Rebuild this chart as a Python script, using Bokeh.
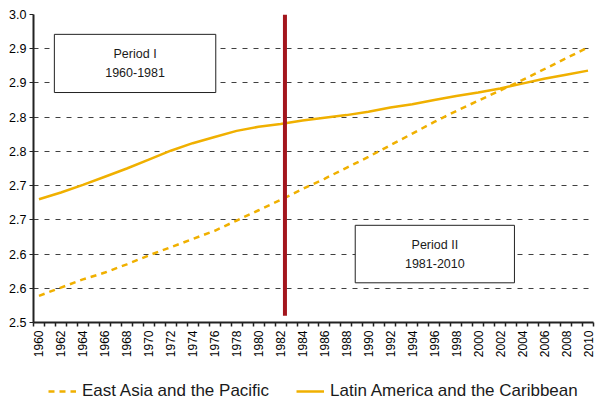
import math
from bokeh.plotting import figure
from bokeh.layouts import column
from bokeh.models import Range1d, FixedTicker, BoxAnnotation, Label, Legend, LegendItem
from bokeh.embed import file_html
from bokeh.resources import INLINE

# ---- data ----
years = list(range(1960, 2011, 2))
east_asia = [2.589, 2.601, 2.613, 2.623, 2.635, 2.648, 2.660, 2.672, 2.684, 2.699,
             2.714, 2.729, 2.745, 2.760, 2.776, 2.792, 2.809, 2.826, 2.843, 2.859,
             2.874, 2.889, 2.904, 2.920, 2.936, 2.952]
latin = [2.730, 2.740, 2.751, 2.763, 2.775, 2.788, 2.801, 2.812, 2.821, 2.830,
         2.836, 2.840, 2.845, 2.849, 2.853, 2.858, 2.864, 2.869, 2.875, 2.881,
         2.886, 2.892, 2.899, 2.906, 2.912, 2.918]
series_names = ["East Asia and the Pacific", "Latin America and the Caribbean"]

y_ticks = [2.55, 2.6, 2.65, 2.7, 2.75, 2.8, 2.85, 2.9, 2.95, 3.0]
y_tick_labels = ["2.5", "2.6", "2.6", "2.7", "2.7", "2.8", "2.8", "2.9", "2.9", "3.0"]
x_label_years = list(range(1960, 2011, 2))
x_category_edges = [y - 0.5 for y in range(1960, 2012)]

period_break = 1982.4
period_break_bottom = 2.56
period_boxes = [
    dict(left=1961.4, right=1976.1, bottom=2.886, top=2.971, lines=["Period I", "1960-1981"]),
    dict(left=1988.8, right=2003.3, bottom=2.608, top=2.692, lines=["Period II", "1981-2010"]),
]

FONT = "Liberation Sans"
GOLD = "#F0B000"
DASH = "6 5"

p = figure(width=596, height=360,
           x_range=Range1d(1959.5, 2010.5), y_range=Range1d(2.55, 3.0),
           output_backend="svg", toolbar_location=None,
           min_border_left=33, min_border_right=3, min_border_top=14, min_border_bottom=37)
p.outline_line_color = None
p.background_fill_color = "white"

# grid
p.xgrid.visible = False
p.ygrid.ticker = FixedTicker(ticks=y_ticks)
p.ygrid.grid_line_color = "#404040"
p.ygrid.grid_line_dash = "5 6"
p.ygrid.grid_line_width = 1

# y axis
p.yaxis.ticker = FixedTicker(ticks=y_ticks)
p.yaxis.major_label_overrides = {t: l for t, l in zip(y_ticks, y_tick_labels)}
p.yaxis.major_label_text_font = FONT
p.yaxis.major_label_text_font_size = "12.5px"
p.yaxis.major_label_text_color = "black"
p.yaxis.axis_line_color = "#222222"
p.yaxis.axis_line_width = 2
p.yaxis.major_tick_out = 4
p.yaxis.major_tick_in = 0
p.yaxis.major_tick_line_color = "#222222"
p.yaxis.minor_tick_line_color = None
p.yaxis.major_label_standoff = 3

# x axis
p.xaxis.ticker = FixedTicker(ticks=x_label_years, minor_ticks=x_category_edges)
p.xaxis.major_label_orientation = math.pi / 2
p.xaxis.major_label_text_font = FONT
p.xaxis.major_label_text_font_size = "12px"
p.xaxis.major_label_text_color = "black"
p.xaxis.major_tick_line_color = None
p.xaxis.major_tick_out = 0
p.xaxis.major_tick_in = 0
p.xaxis.minor_tick_out = 4
p.xaxis.minor_tick_in = 0
p.xaxis.minor_tick_line_color = "#222222"
p.xaxis.minor_tick_line_width = 1.5
p.xaxis.axis_line_color = "#222222"
p.xaxis.axis_line_width = 2
p.xaxis.major_label_standoff = 4

# series
p.line(years, east_asia, line_color=GOLD, line_width=2.5, line_dash=DASH)
p.line(years, latin, line_color=GOLD, line_width=2.5)

# period break
p.segment(x0=[period_break], y0=[period_break_bottom], x1=[period_break], y1=[3.0],
          line_color="#A3161D", line_width=4)

# period boxes
for b in period_boxes:
    p.add_layout(BoxAnnotation(left=b["left"], right=b["right"], bottom=b["bottom"], top=b["top"],
                               fill_color="white", fill_alpha=1.0,
                               line_color="#222222", line_width=1, line_alpha=1.0))
    cx = (b["left"] + b["right"]) / 2
    cy = (b["bottom"] + b["top"]) / 2
    for i, txt in enumerate(b["lines"]):
        p.add_layout(Label(x=cx, y=cy, text=txt, text_align="center", text_baseline="middle",
                           y_offset=9 - 18 * i, text_font=FONT, text_font_size="12.5px",
                           text_color="#1a1a1a"))

# legend strip (separate figure; the series are drawn out of its view, only the key shows)
lg = figure(width=596, height=42, x_axis_type=None, y_axis_type=None,
            output_backend="svg", toolbar_location=None,
            min_border_left=0, min_border_right=0, min_border_top=0, min_border_bottom=0,
            x_range=Range1d(0, 1), y_range=Range1d(0, 1))
lg.outline_line_color = None
lg.xgrid.visible = False
lg.ygrid.visible = False
k1 = lg.line(years, east_asia, line_color=GOLD, line_width=2.5, line_dash=DASH)
k2 = lg.line(years, latin, line_color=GOLD, line_width=2.5)
legend = Legend(items=[LegendItem(label=series_names[0], renderers=[k1]),
                       LegendItem(label=series_names[1], renderers=[k2])],
                orientation="horizontal", location=(15, 1),
                label_text_font=FONT, label_text_font_size="17px", label_text_color="#1a1a1a",
                glyph_width=28, glyph_height=16, label_standoff=6, spacing=27,
                border_line_color=None, background_fill_alpha=0, padding=0, margin=0)
lg.add_layout(legend, "center")

layout = column(p, lg, spacing=0)
open("out.html", "w").write(file_html(layout, INLINE))
